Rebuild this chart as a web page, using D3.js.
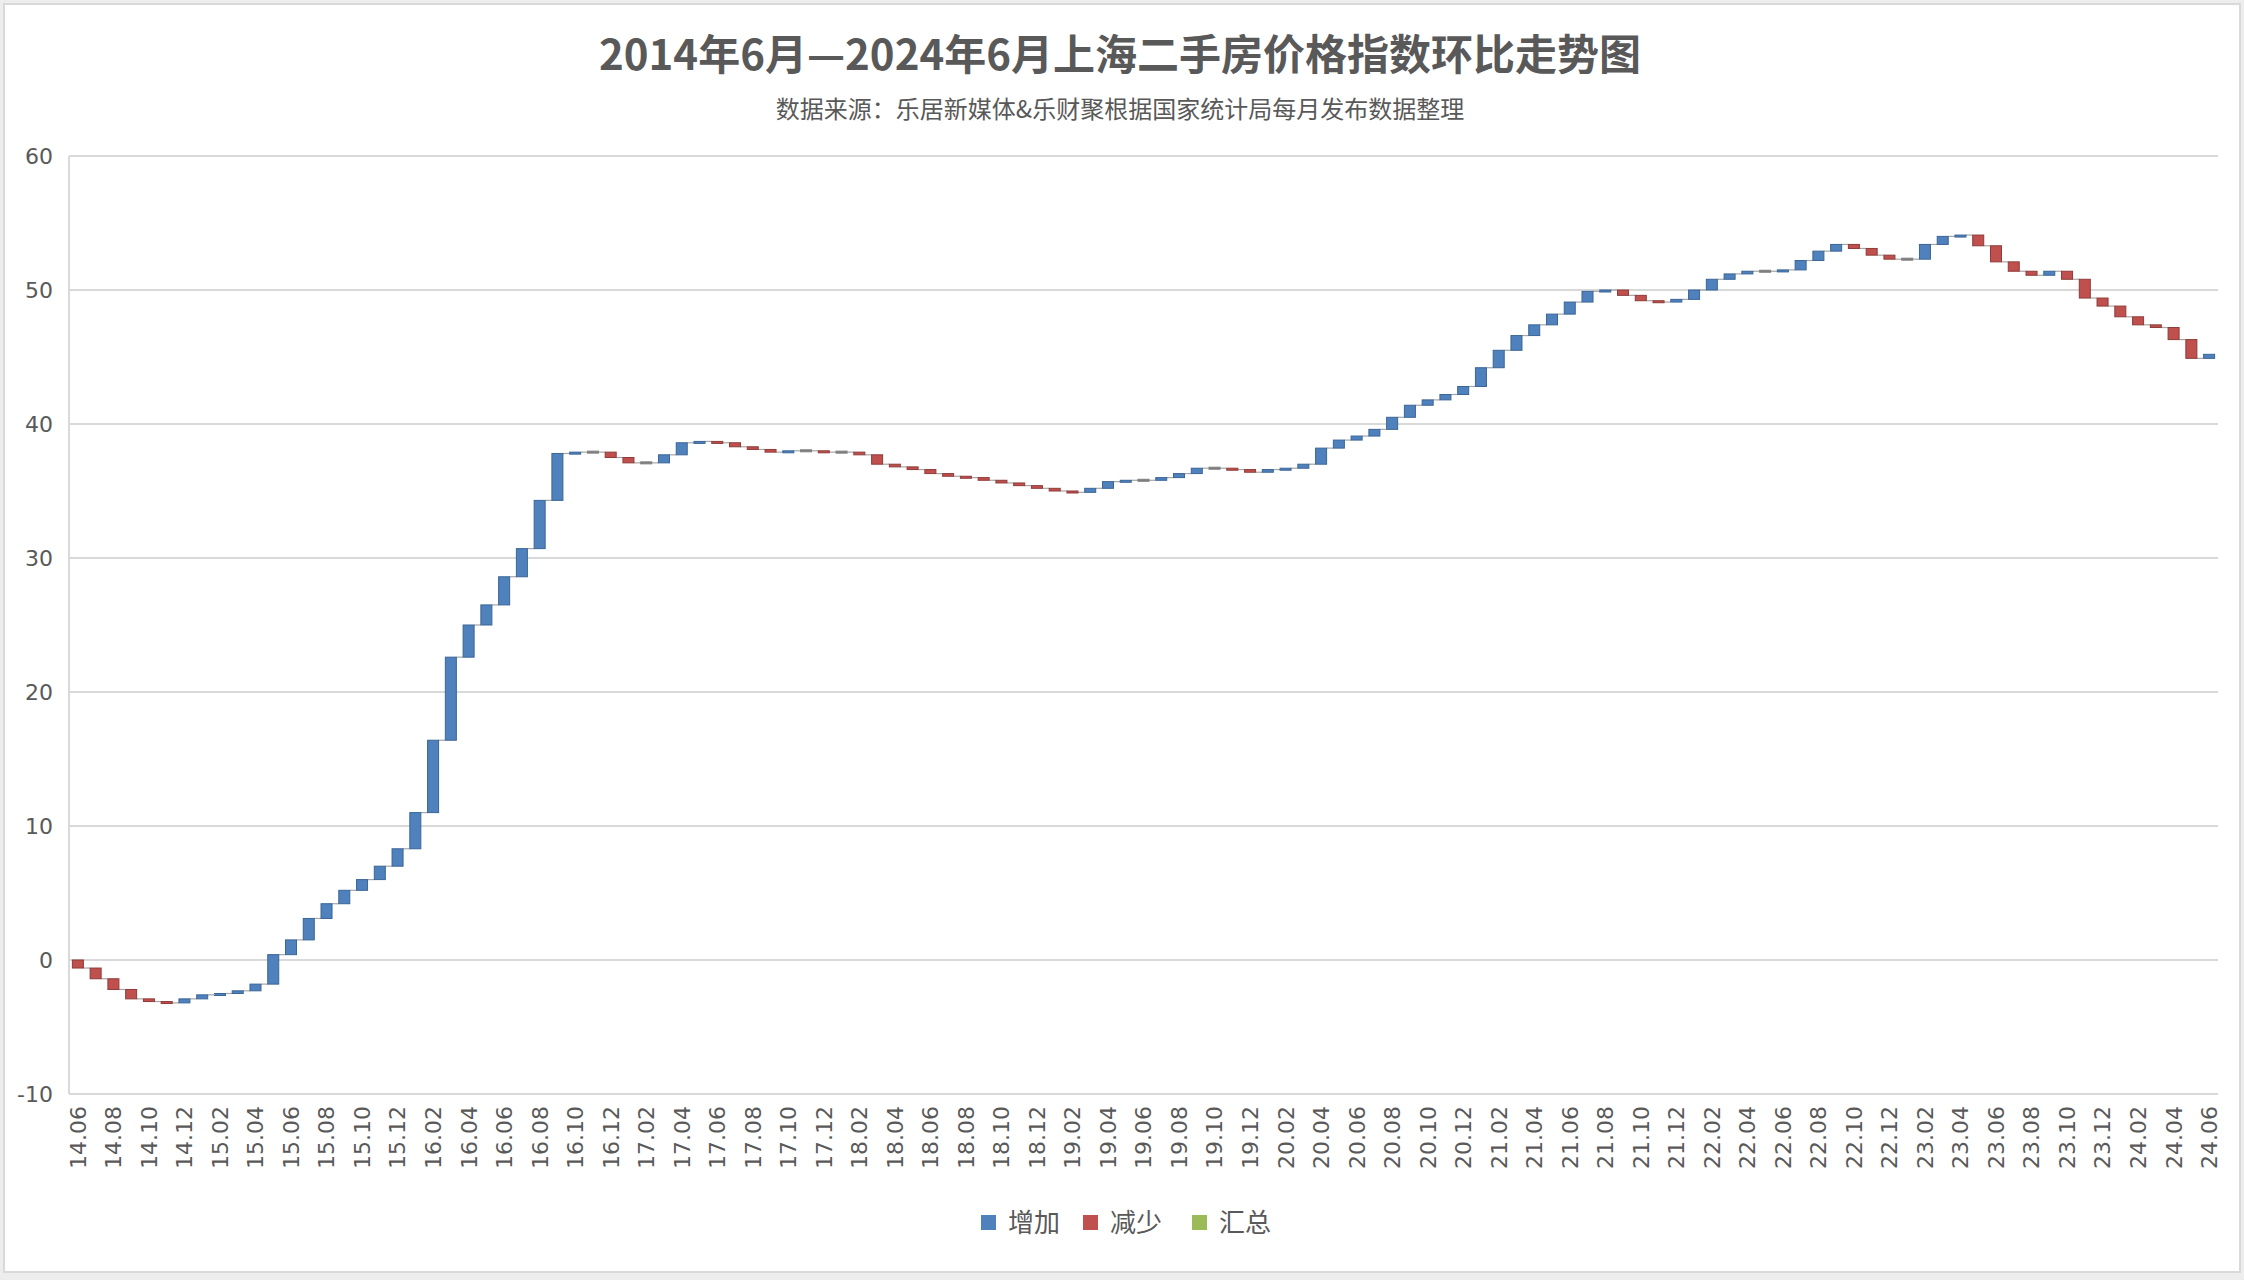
<!DOCTYPE html>
<html>
<head>
<meta charset="utf-8">
<script src="https://cdn.jsdelivr.net/npm/d3@7/dist/d3.min.js"></script>
<style>
  html, body { margin: 0; padding: 0; background: #ffffff; }
  svg { display: block; }
</style>
</head>
<body>
<svg id="chart" width="2244" height="1280"></svg>
<script>
// ---------------- DATA ----------------
const titleText = "2014年6月—2024年6月上海二手房价格指数环比走势图";
const subtitleText = "数据来源：乐居新媒体&乐财聚根据国家统计局每月发布数据整理";

const categories = [
  "14.06","14.07","14.08","14.09","14.10","14.11","14.12",
  "15.01","15.02","15.03","15.04","15.05","15.06","15.07","15.08","15.09","15.10","15.11","15.12",
  "16.01","16.02","16.03","16.04","16.05","16.06","16.07","16.08","16.09","16.10","16.11","16.12",
  "17.01","17.02","17.03","17.04","17.05","17.06","17.07","17.08","17.09","17.10","17.11","17.12",
  "18.01","18.02","18.03","18.04","18.05","18.06","18.07","18.08","18.09","18.10","18.11","18.12",
  "19.01","19.02","19.03","19.04","19.05","19.06","19.07","19.08","19.09","19.10","19.11","19.12",
  "20.01","20.02","20.03","20.04","20.05","20.06","20.07","20.08","20.09","20.10","20.11","20.12",
  "21.01","21.02","21.03","21.04","21.05","21.06","21.07","21.08","21.09","21.10","21.11","21.12",
  "22.01","22.02","22.03","22.04","22.05","22.06","22.07","22.08","22.09","22.10","22.11","22.12",
  "23.01","23.02","23.03","23.04","23.05","23.06","23.07","23.08","23.09","23.10","23.11","23.12",
  "24.01","24.02","24.03","24.04","24.05","24.06"
];

// monthly change (环比, percentage points)
const changes = [
  -0.6, -0.8, -0.8, -0.7, -0.2, -0.1, 0.3,
  0.3, 0.1, 0.2, 0.5, 2.2, 1.1, 1.6, 1.1, 1.0, 0.8, 1.0, 1.3,
  2.7, 5.4, 6.2, 2.4, 1.5, 2.1, 2.1, 3.6, 3.5, 0.1, 0.0, -0.4,
  -0.4, 0.0, 0.6, 0.9, 0.1, -0.1, -0.3, -0.2, -0.2, 0.1, 0.0, -0.1,
  0.0, -0.2, -0.7, -0.2, -0.2, -0.3, -0.2, -0.1, -0.2, -0.2, -0.2, -0.2,
  -0.2, -0.1, 0.3, 0.5, 0.1, 0.0, 0.2, 0.3, 0.4, 0.0, -0.1, -0.2,
  0.2, 0.1, 0.3, 1.2, 0.6, 0.3, 0.5, 0.9, 0.9, 0.4, 0.4, 0.6,
  1.4, 1.3, 1.1, 0.8, 0.8, 0.9, 0.8, 0.1, -0.4, -0.4, -0.1, 0.2,
  0.7, 0.8, 0.4, 0.2, 0.0, 0.1, 0.7, 0.7, 0.5, -0.3, -0.5, -0.3,
  0.0, 1.1, 0.6, 0.1, -0.8, -1.2, -0.7, -0.3, 0.3, -0.6, -1.4, -0.6,
  -0.8, -0.6, -0.2, -0.9, -1.4, 0.3
];

const tickLabels = [
  "14.06","14.08","14.10","14.12","15.02","15.04","15.06","15.08","15.10","15.12",
  "16.02","16.04","16.06","16.08","16.10","16.12","17.02","17.04","17.06","17.08",
  "17.10","17.12","18.02","18.04","18.06","18.08","18.10","18.12","19.02","19.04",
  "19.06","19.08","19.10","19.12","20.02","20.04","20.06","20.08","20.10","20.12",
  "21.02","21.04","21.06","21.08","21.10","21.12","22.02","22.04","22.06","22.08",
  "22.10","22.12","23.02","23.04","23.06","23.08","23.10","23.12","24.02","24.04","24.06"
];
const yTicks = [-10, 0, 10, 20, 30, 40, 50, 60];
const legendLabels = ["增加", "减少", "汇总"];
const legendColors = ["#4F81BD", "#C0504D", "#9BBB59"];

// ---------------- LAYOUT ----------------
const W = 2244, H = 1280;
const plot = { left: 69, right: 2218, top: 156, bottom: 1094 };
const textColor = "#595959";
const cjk = "'Noto Sans CJK SC', 'Noto Sans', sans-serif";
const latin = "'DejaVu Sans', Verdana, sans-serif";

const svg = d3.select("#chart");

// outer frame
svg.append("rect").attr("x", 0).attr("y", 0).attr("width", W).attr("height", H).attr("fill", "#ededed");
svg.append("rect").attr("x", 4).attr("y", 4).attr("width", W - 8).attr("height", H - 12)
  .attr("fill", "#ffffff").attr("stroke", "#d9d9d9").attr("stroke-width", 2);

// title
svg.append("text").attr("x", 1120).attr("y", 70).attr("text-anchor", "middle")
  .attr("font-family", cjk).attr("font-weight", "bold").attr("font-size", 42)
  .attr("fill", textColor).text(titleText);
svg.append("text").attr("x", 1120).attr("y", 118).attr("text-anchor", "middle")
  .attr("font-family", cjk).attr("font-size", 24)
  .attr("fill", textColor).text(subtitleText);

// scales
const x = d3.scaleBand().domain(categories).range([plot.left, plot.right])
  .paddingInner(0.38).paddingOuter(0.19);
const y = d3.scaleLinear().domain([-10, 60]).range([plot.bottom, plot.top]);

// waterfall records
let run = 0;
const rows = categories.map((c, i) => {
  const start = run;
  run = +(run + changes[i]).toFixed(2);
  return { cat: c, start, end: run, delta: changes[i] };
});

// gridlines
svg.append("g").selectAll("line").data(yTicks).join("line")
  .attr("x1", plot.left).attr("x2", plot.right)
  .attr("y1", d => y(d)).attr("y2", d => y(d))
  .attr("stroke", "#d9d9d9").attr("stroke-width", 2);
svg.append("line").attr("x1", plot.left).attr("x2", plot.left)
  .attr("y1", plot.top).attr("y2", plot.bottom)
  .attr("stroke", "#d9d9d9").attr("stroke-width", 2);

// y axis
const yAxis = svg.append("g").attr("transform", `translate(${plot.left},0)`)
  .call(d3.axisLeft(y).tickValues(yTicks).tickFormat(d => String(d)).tickSize(0).tickPadding(16));
yAxis.select(".domain").remove();
yAxis.selectAll("text").attr("font-family", latin).attr("font-size", 22).attr("fill", textColor);

// x axis
const xAxis = svg.append("g").attr("transform", `translate(0,${plot.bottom})`)
  .call(d3.axisBottom(x).tickValues(tickLabels).tickSize(0).tickPadding(0));
xAxis.select(".domain").remove();
xAxis.selectAll("text")
  .attr("font-family", latin).attr("font-size", 22).attr("fill", textColor)
  .attr("text-anchor", "end")
  .attr("transform", "rotate(-90)")
  .attr("x", -12).attr("y", 0).attr("dy", "0.36em");

// connectors
const bw = x.bandwidth();
svg.append("g").selectAll("line").data(rows.slice(0, -1)).join("line")
  .attr("x1", d => x(d.cat) + bw)
  .attr("x2", (d, i) => x(rows[i + 1].cat))
  .attr("y1", d => y(d.end)).attr("y2", d => y(d.end))
  .attr("stroke", "#a6a6a6").attr("stroke-width", 1.2);

// bars
svg.append("g").selectAll("rect").data(rows).join("rect")
  .attr("x", d => x(d.cat))
  .attr("width", bw)
  .attr("y", d => d.delta === 0 ? y(d.end) - 1 : y(Math.max(d.start, d.end)))
  .attr("height", d => d.delta === 0 ? 2 : Math.max(2, Math.abs(y(d.start) - y(d.end))))
  .attr("fill", d => d.delta > 0 ? "#4F81BD" : d.delta < 0 ? "#C0504D" : "#7f7f7f")
  .attr("stroke", d => d.delta > 0 ? "#3A6596" : d.delta < 0 ? "#8E3B39" : "#7f7f7f")
  .attr("stroke-width", 1);

// legend
const legendX = [981, 1083, 1192];
const lg = svg.append("g");
legendLabels.forEach((lab, i) => {
  lg.append("rect").attr("x", legendX[i]).attr("y", 1215).attr("width", 15).attr("height", 15)
    .attr("fill", legendColors[i]);
  lg.append("text").attr("x", legendX[i] + 27).attr("y", 1232)
    .attr("font-family", cjk).attr("font-size", 26).attr("fill", textColor).text(lab);
});
</script>
</body>
</html>
